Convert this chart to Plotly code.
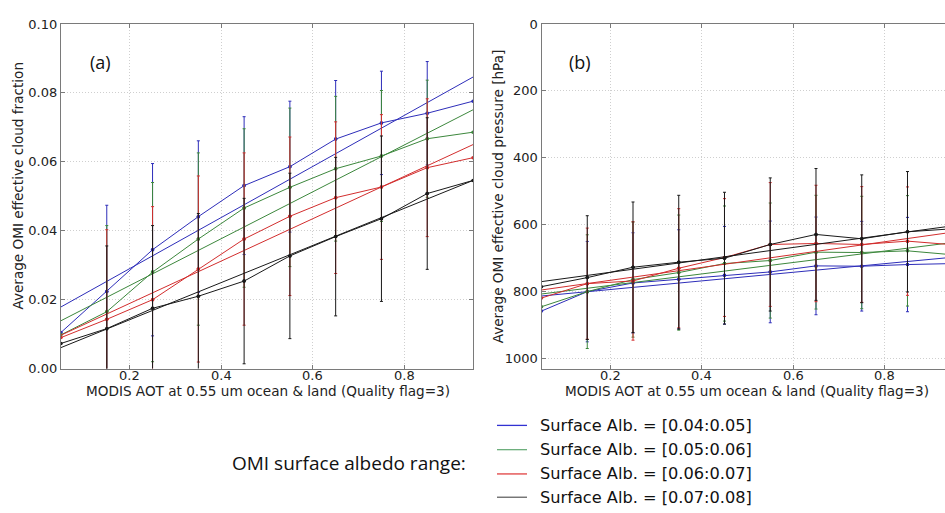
import plotly.graph_objects as go

# ---------------- data ----------------
aot = [0.05, 0.15, 0.25, 0.35, 0.45, 0.55, 0.65, 0.75, 0.85, 0.95]
aot_bins = [0.15, 0.25, 0.35, 0.45, 0.55, 0.65, 0.75, 0.85]   # bins with error bars
fit_x = [0.05, 0.95]

series_names = ["Surface Alb. = [0.04:0.05]", "Surface Alb. = [0.05:0.06]",
                "Surface Alb. = [0.06:0.07]", "Surface Alb. = [0.07:0.08]"]
series_colors = ["rgb(45,45,185)", "rgb(60,135,60)", "rgb(210,45,45)", "rgb(25,25,25)"]
legend_colors = ["rgb(50,50,210)", "rgb(110,175,125)", "rgb(225,65,65)", "rgb(100,100,100)"]

# (a) cloud fraction
cf_blue = [0.0105, 0.0224, 0.0345, 0.0441, 0.0531, 0.0586, 0.0666, 0.0713, 0.0741, 0.0776]
cf_green = [0.0098, 0.0165, 0.0280, 0.0376, 0.0466, 0.0526, 0.0580, 0.0617, 0.0667, 0.0686]
cf_red = [0.0090, 0.0143, 0.0200, 0.0289, 0.0376, 0.0442, 0.0496, 0.0527, 0.0583, 0.0612]
cf_black = [0.0073, 0.0116, 0.0175, 0.0210, 0.0254, 0.0327, 0.0383, 0.0435, 0.0508, 0.0546]

cf_err_blue = [0.025, 0.025, 0.022, 0.020, 0.019, 0.017, 0.015, 0.015]
cf_err_green = [0.025, 0.026, 0.025, 0.023, 0.023, 0.021, 0.019, 0.017]
cf_err_red = [0.026, 0.027, 0.027, 0.025, 0.023, 0.022, 0.021, 0.020]
cf_err_black = [0.024, 0.024, 0.024, 0.024, 0.024, 0.023, 0.024, 0.022]

cf_fit_blue = [0.0179, 0.0846]
cf_fit_green = [0.0139, 0.0751]
cf_fit_red = [0.0097, 0.0650]
cf_fit_black = [0.0061, 0.0546]

# (b) cloud pressure
cp_blue = [858, 800, 774, 763, 751, 741, 723, 724, 719, 716]
cp_green = [845, 800, 764, 743, 716, 707, 682, 683, 678, 690]
cp_red = [819, 776, 768, 730, 698, 659, 656, 659, 649, 660]
cp_black = [785, 758, 727, 712, 700, 659, 629, 642, 621, 612]

cp_err_blue = [150, 150, 148, 146, 152, 146, 134, 141]
cp_err_green = [170, 172, 172, 172, 172, 170, 168, 165]
cp_err_red = [166, 177, 178, 176, 185, 174, 173, 162]
cp_err_black = [185, 195, 200, 197, 199, 197, 191, 180]

cp_fit_blue = [813, 697]
cp_fit_green = [807, 653]
cp_fit_red = [795, 622]
cp_fit_black = [770, 603]

cf_vals = [cf_blue, cf_green, cf_red, cf_black]
cf_errs = [cf_err_blue, cf_err_green, cf_err_red, cf_err_black]
cf_fits = [cf_fit_blue, cf_fit_green, cf_fit_red, cf_fit_black]
cp_vals = [cp_blue, cp_green, cp_red, cp_black]
cp_errs = [cp_err_blue, cp_err_green, cp_err_red, cp_err_black]
cp_fits = [cp_fit_blue, cp_fit_green, cp_fit_red, cp_fit_black]

x_ticks = [0.2, 0.4, 0.6, 0.8]
cf_ticks = [0.00, 0.02, 0.04, 0.06, 0.08, 0.10]
cp_ticks = [0, 200, 400, 600, 800, 1000]

# ---------------- figure ----------------
W, H = 945, 513
fig = go.Figure()


def add_panel(vals, errs, fits, xa, ya):
    for k in range(4):
        col = series_colors[k]
        i0, i1 = aot.index(aot_bins[0]), aot.index(aot_bins[-1]) + 1
        fig.add_trace(go.Scatter(
            x=aot_bins, y=vals[k][i0:i1], mode="markers", xaxis=xa, yaxis=ya,
            marker=dict(size=3.5, color=col),
            error_y=dict(type="data", array=errs[k], color=col, thickness=1, width=1.5),
            showlegend=False))
        fig.add_trace(go.Scatter(
            x=aot, y=vals[k], mode="lines+markers", xaxis=xa, yaxis=ya,
            line=dict(color=col, width=1), marker=dict(size=3.5, color=col),
            showlegend=False))
        fig.add_trace(go.Scatter(
            x=fit_x, y=fits[k], mode="lines", xaxis=xa, yaxis=ya,
            line=dict(color=col, width=1), showlegend=False))


add_panel(cf_vals, cf_errs, cf_fits, "x", "y")
add_panel(cp_vals, cp_errs, cp_fits, "x2", "y2")

px_x = lambda p: p / W
px_y = lambda p: 1 - p / H

tickfont = dict(family="DejaVu Sans", size=13, color="#222")
axis_common = dict(showline=True, linecolor="#7a7a7a", linewidth=1.2,
                   ticks="inside", ticklen=4, tickcolor="#7a7a7a",
                   showgrid=True, gridcolor="#cfcfcf", griddash="1px,2px", gridwidth=1,
                   zeroline=False, tickfont=tickfont)

fig.update_layout(
    width=W, height=H, margin=dict(l=0, r=0, t=0, b=0),
    paper_bgcolor="white", plot_bgcolor="white", showlegend=False,
    xaxis=dict(domain=[px_x(61), px_x(473)], range=[0.05, 0.95], tickvals=x_ticks,
               showticklabels=False, mirror="allticks", anchor="y", **axis_common),
    yaxis=dict(domain=[px_y(372.5), px_y(17.5)], range=[0, 0.10], tickvals=cf_ticks,
               ticktext=[f"{v:.2f}" for v in cf_ticks], mirror="allticks", anchor="x", **axis_common),
    xaxis2=dict(domain=[px_x(541.5), 1.0], range=[0.05, 0.932], tickvals=x_ticks,
                showticklabels=False, mirror="allticks", anchor="y2", **axis_common),
    yaxis2=dict(domain=[px_y(372.5), px_y(17.5)], range=[1030, 0], tickvals=cp_ticks,
                ticktext=[str(v) for v in cp_ticks], mirror=False, anchor="x2", **axis_common),
)

ann = []
# x tick labels (placed tight under the axis as in the reference)
for xa in ["x", "x2"]:
    for v in x_ticks:
        ann.append(dict(text=f"{v:.1f}", x=v, xref=xa, y=px_y(379.5), yref="paper",
                        showarrow=False, font=tickfont, xanchor="center", yanchor="middle"))

title_font = dict(family="DejaVu Sans", size=13.6, color="#222")
xt = "MODIS AOT at 0.55 um ocean &amp; land (Quality flag=3)"
ann.append(dict(text=xt, x=px_x(267.5), y=px_y(396), xref="paper", yref="paper",
                showarrow=False, font=title_font, xanchor="center", yanchor="middle"))
ann.append(dict(text=xt, x=px_x(747), y=px_y(396), xref="paper", yref="paper",
                showarrow=False, font=title_font, xanchor="center", yanchor="middle"))
ann.append(dict(text="Average OMI effective cloud fraction", x=px_x(18), y=px_y(184),
                xref="paper", yref="paper", showarrow=False, font=title_font, textangle=-90,
                xanchor="center", yanchor="middle"))
ann.append(dict(text="Average OMI effective cloud pressure [hPa]", x=px_x(498), y=px_y(195),
                xref="paper", yref="paper", showarrow=False, font=title_font, textangle=-90,
                xanchor="center", yanchor="middle"))
panel_font = dict(family="Open Sans", size=18, color="#111")
ann.append(dict(text="(a)", x=px_x(100), y=px_y(57), xref="paper", yref="paper",
                showarrow=False, font=panel_font, xanchor="center", yanchor="middle"))
ann.append(dict(text="(b)", x=px_x(580), y=px_y(57), xref="paper", yref="paper",
                showarrow=False, font=panel_font, xanchor="center", yanchor="middle"))

leg_font = dict(family="DejaVu Sans", size=16.2, color="#111")
ann.append(dict(text="OMI surface albedo range:", x=px_x(230), y=px_y(470), xref="paper",
                yref="paper", showarrow=False, font=dict(family="Open Sans", size=19, color="#111"),
                xanchor="left", yanchor="middle"))
shapes = []
rows = [431, 456, 481, 505]
for k in range(4):
    shapes.append(dict(type="line", xref="paper", yref="paper", x0=px_x(497), x1=px_x(527),
                       y0=px_y(rows[k]), y1=px_y(rows[k]),
                       line=dict(color=legend_colors[k], width=1.3)))
    ann.append(dict(text=series_names[k], x=px_x(538), y=px_y(rows[k]), xref="paper",
                    yref="paper", showarrow=False, font=leg_font, xanchor="left", yanchor="middle"))

fig.update_layout(annotations=ann, shapes=shapes)
fig.write_html("out.html")
